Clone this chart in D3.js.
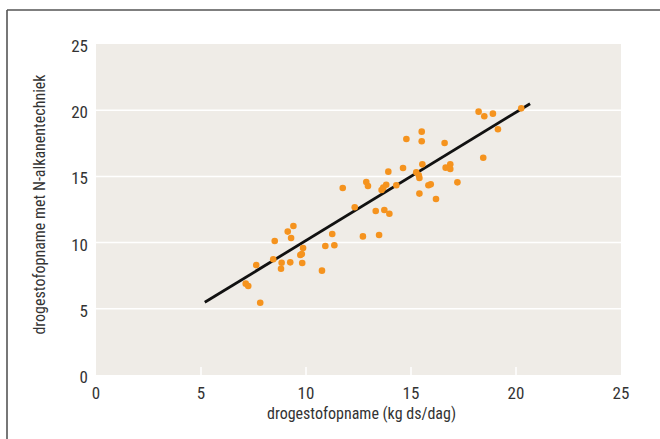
<!DOCTYPE html>
<html>
<head>
<meta charset="utf-8">
<script src="https://cdn.jsdelivr.net/npm/d3@7"></script>
<style>
  html, body { margin: 0; padding: 0; background: #ffffff; }
  svg { display: block; }
  text { font-family: "Liberation Sans Narrow", "Roboto Condensed", "Arial Narrow", sans-serif; fill: #333333; }
</style>
</head>
<body>
<svg id="chart" width="660" height="439"></svg>
<script>
// Data (x = drogestofopname kg ds/dag, y = drogestofopname met N-alkanentechniek)
const xValues = [18.22, 18.49, 18.90, 20.25, 19.14, 15.51, 14.78, 15.51, 16.60, 18.44,
                 15.54, 16.87, 16.65, 16.87, 14.62, 13.92, 15.25, 15.37, 15.40, 11.75,
                 12.87, 12.95, 13.60, 13.68, 13.82, 14.30, 15.83, 15.94, 17.21, 15.40,
                 16.19, 12.32, 13.32, 13.73, 13.97, 9.40, 9.13, 9.29, 8.51, 9.86,
                 9.73, 9.80, 8.44, 8.84, 8.81, 9.25, 9.82, 7.63, 7.13, 7.25,
                 7.82, 10.76, 10.92, 11.35, 11.25, 12.71, 13.48];
const yValues = [19.89, 19.54, 19.74, 20.14, 18.56, 18.38, 17.82, 17.65, 17.52, 16.41,
                 15.91, 15.91, 15.66, 15.56, 15.63, 15.36, 15.31, 15.08, 14.88, 14.12,
                 14.58, 14.27, 13.97, 14.15, 14.37, 14.33, 14.33, 14.40, 14.55, 13.70,
                 13.29, 12.67, 12.39, 12.46, 12.18, 11.25, 10.83, 10.35, 10.12, 9.59,
                 9.06, 9.14, 8.74, 8.48, 8.03, 8.51, 8.46, 8.31, 6.90, 6.72,
                 5.46, 7.88, 9.74, 9.80, 10.65, 10.47, 10.57];
const fitX = [5.18, 20.67];
const fitY = [5.49, 20.49];
const xTicks = [0, 5, 10, 15, 20, 25];
const yTicks = [0, 5, 10, 15, 20, 25];
const xTitle = "drogestofopname (kg ds/dag)";
const yTitle = "drogestofopname met N-alkanentechniek";

const points = xValues.map((x, i) => ({x, y: yValues[i]}));
const fit = fitX.map((x, i) => ({x, y: fitY[i]}));

const svg = d3.select("#chart");
const pLeft = 96, pRight = 621, pTop = 44, pBottom = 375;

const x = d3.scaleLinear().domain([0, 25]).range([pLeft, pRight]);
const y = d3.scaleLinear().domain([0, 25]).range([pBottom, pTop]);

// frame (top and left rules)
svg.append("line").attr("x1", 7).attr("x2", 660).attr("y1", 10).attr("y2", 10)
  .attr("stroke", "#555").attr("stroke-width", 1.6);
svg.append("line").attr("x1", 7).attr("x2", 7).attr("y1", 10).attr("y2", 439)
  .attr("stroke", "#555").attr("stroke-width", 1.6);

// plot background
svg.append("rect").attr("x", pLeft).attr("y", pTop)
  .attr("width", pRight - pLeft).attr("height", pBottom - pTop)
  .attr("fill", "#efece7");

// horizontal gridlines
svg.append("g").selectAll("line").data(yTicks.filter(d => d > 0 && d < 25)).join("line")
  .attr("x1", pLeft).attr("x2", pRight)
  .attr("y1", d => y(d)).attr("y2", d => y(d))
  .attr("stroke", "#ffffff").attr("stroke-width", 1.5);

// short vertical ticks at bottom
svg.append("g").selectAll("line").data(xTicks.filter(d => d > 0 && d < 25)).join("line")
  .attr("x1", d => x(d)).attr("x2", d => x(d))
  .attr("y1", pBottom - 8).attr("y2", pBottom)
  .attr("stroke", "#ffffff").attr("stroke-width", 1.5);

// y tick labels
svg.append("g").selectAll("text").data(yTicks).join("text")
  .attr("x", pLeft - 8).attr("y", d => y(d) + 8)
  .attr("text-anchor", "end")
  .attr("font-size", 17)
  .text(d => d);

// x tick labels
svg.append("g").selectAll("text").data(xTicks).join("text")
  .attr("x", d => x(d)).attr("y", pBottom + 24)
  .attr("text-anchor", "middle")
  .attr("font-size", 17)
  .text(d => d);

// axis titles
svg.append("text").attr("x", (pLeft + pRight) / 2 + 3).attr("y", 419)
  .attr("text-anchor", "middle").attr("font-size", 16).text(xTitle);
svg.append("text")
  .attr("transform", `translate(45, ${(pTop + pBottom) / 2 - 5}) rotate(-90)`)
  .attr("text-anchor", "middle").attr("font-size", 16).text(yTitle);

// regression line
svg.append("path").datum(fit)
  .attr("d", d3.line().x(d => x(d.x)).y(d => y(d.y)))
  .attr("fill", "none").attr("stroke", "#111").attr("stroke-width", 2.8);

// points
svg.append("g").selectAll("circle").data(points).join("circle")
  .attr("cx", d => x(d.x)).attr("cy", d => y(d.y))
  .attr("r", 3.3).attr("fill", "#f5931e");
</script>
</body>
</html>
